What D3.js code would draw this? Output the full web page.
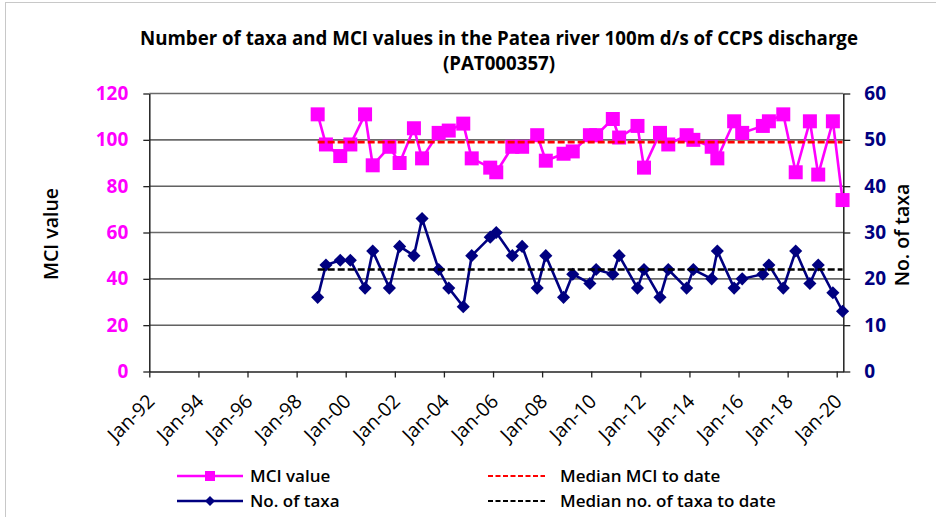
<!DOCTYPE html>
<html>
<head>
<meta charset="utf-8">
<script src="https://cdn.jsdelivr.net/npm/d3@7"></script>
<style>
  body { margin: 0; background: #fff; }
  svg text { font-family: "Open Sans", sans-serif; }
</style>
</head>
<body>
<script>
// sampling dates (spring / summer surveys)
var sampleDates = ["1998-11-10", "1999-03-13", "1999-10-12", "2000-03-10", "2000-10-15",
  "2001-02-06", "2001-10-12", "2002-03-13", "2002-10-12", "2003-02-10",
  "2003-10-15", "2004-03-13", "2004-10-15", "2005-02-18", "2005-11-20",
  "2006-02-18", "2006-10-15", "2007-03-10", "2007-10-20", "2008-02-25",
  "2008-11-15", "2009-04-01", "2009-12-12", "2010-03-15", "2010-11-18",
  "2011-02-20", "2011-11-20", "2012-02-25", "2012-10-20", "2013-02-20",
  "2013-11-20", "2014-02-28", "2014-11-28", "2015-02-20", "2015-10-28",
  "2016-02-25", "2016-12-28", "2017-03-28", "2017-10-28", "2018-05-01",
  "2018-11-28", "2019-04-01", "2019-11-05", "2020-03-28"];

var mciValues = [111, 98, 93, 98, 111, 89, 97, 90, 105, 92,
  103, 104, 107, 92, 88, 86, 97, 97, 102, 91,
  94, 95, 102, 102, 109, 101, 106, 88, 103, 98,
  102, 100, 97, 92, 108, 103, 106, 108, 111, 86,
  108, 85, 108, 74];

var taxaValues = [16, 23, 24, 24, 18, 26, 18, 27, 25, 33,
  22, 18, 14, 25, 29, 30, 25, 27, 18, 25,
  16, 21, 19, 22, 21, 25, 18, 22, 16, 22,
  18, 22, 20, 26, 18, 20, 21, 23, 18, 26,
  19, 23, 17, 13];

var medianMCI = 99;
var medianTaxa = 22;

var mciTicks = [0, 20, 40, 60, 80, 100, 120];
var taxaTicks = [0, 10, 20, 30, 40, 50, 60];

var titleLines = ["Number of taxa and MCI values in the Patea river 100m d/s of CCPS discharge",
  "(PAT000357)"];

var W = 936, H = 517;
var plotLeft = 149.3, plotRight = 843.3, plotTop = 93.5, plotBottom = 371.5;

var parse = d3.timeParse("%Y-%m-%d");
var dates = sampleDates.map(parse);

var svg = d3.select("body").append("svg")
  .attr("width", W)
  .attr("height", H);

svg.append("rect").attr("width", W).attr("height", H).attr("fill", "#fff");
// chart frame
svg.append("rect")
  .attr("x", 5.5).attr("y", 2.5)
  .attr("width", W).attr("height", H)
  .attr("fill", "none").attr("stroke", "#c8c8c8");

var x = d3.scaleTime()
  .domain([new Date(1992, 0, 1), new Date(2020, 3, 8)])
  .range([plotLeft, plotRight]);
var yL = d3.scaleLinear().domain([0, 120]).range([plotBottom, plotTop]);
var yR = d3.scaleLinear().domain([0, 60]).range([plotBottom, plotTop]);

// title
svg.append("g").selectAll("text")
  .data(titleLines)
  .enter().append("text")
  .attr("x", 499)
  .attr("y", function(d, i) { return 45 + i * 25; })
  .attr("text-anchor", "middle")
  .attr("font-size", "18.7px")
  .attr("font-weight", "bold")
  .text(function(d) { return d; });

// gridlines
svg.append("g").selectAll("line")
  .data(mciTicks.slice(1))
  .enter().append("line")
  .attr("x1", plotLeft).attr("x2", plotRight)
  .attr("y1", function(d) { return yL(d); })
  .attr("y2", function(d) { return yL(d); })
  .attr("stroke", function(d) { return d % 60 === 20 ? "#111" : "#6a6a6a"; })
  .attr("stroke-width", function(d) { return d % 60 === 20 ? 1 : 1.6; });

// axes
var xAxis = svg.append("g")
  .attr("transform", "translate(0," + plotBottom + ")")
  .call(d3.axisBottom(x)
    .ticks(d3.timeYear.every(2))
    .tickFormat(d3.timeFormat("%b-%y"))
    .tickSize(6).tickSizeOuter(0));
xAxis.selectAll("text")
  .attr("y", 0).attr("dy", 0)
  .attr("text-anchor", "end")
  .attr("transform", "translate(6,31) rotate(-45)")
  .attr("font-family", "'Liberation Sans', Arial, sans-serif")
  .attr("font-size", "19.5px")
  .attr("fill", "#000");

var lAxis = svg.append("g")
  .attr("transform", "translate(" + plotLeft + ",0)")
  .call(d3.axisLeft(yL).tickValues(mciTicks).tickSize(6).tickSizeOuter(0).tickPadding(15));
lAxis.selectAll("text")
  .attr("font-size", "19px").attr("font-weight", "bold").attr("fill", "#ff00ff");

var rAxis = svg.append("g")
  .attr("transform", "translate(" + plotRight + ",0)")
  .call(d3.axisRight(yR).tickValues(taxaTicks).tickSize(7).tickSizeOuter(0).tickPadding(14));
rAxis.selectAll("text")
  .attr("font-size", "19px").attr("font-weight", "bold").attr("fill", "#000080");

svg.selectAll(".domain").attr("stroke", "#222").attr("stroke-width", 1.5);
svg.selectAll(".tick line").attr("stroke", "#222").attr("stroke-width", 1.3);

// axis titles
svg.append("text")
  .attr("transform", "translate(58,234) rotate(-90)")
  .attr("text-anchor", "middle")
  .attr("font-size", "19.5px").attr("font-weight", 600)
  .text("MCI value");
svg.append("text")
  .attr("transform", "translate(909,235) rotate(-90)")
  .attr("text-anchor", "middle")
  .attr("font-size", "19.5px").attr("font-weight", 600)
  .text("No. of taxa");

var mciLine = d3.line()
  .x(function(d, i) { return x(dates[i]); })
  .y(function(d) { return yL(d); });
var taxaLine = d3.line()
  .x(function(d, i) { return x(dates[i]); })
  .y(function(d) { return yR(d); });

var square = d3.symbol().type(d3.symbolSquare).size(196);
var diamond = d3.symbol().type(d3.symbolSquare).size(86);

// MCI series
svg.append("path")
  .datum(mciValues)
  .attr("d", mciLine)
  .attr("fill", "none").attr("stroke", "#ff00ff").attr("stroke-width", 2.6);
svg.append("g").selectAll("path")
  .data(mciValues)
  .enter().append("path")
  .attr("d", square)
  .attr("transform", function(d, i) { return "translate(" + x(dates[i]) + "," + yL(d) + ")"; })
  .attr("fill", "#ff00ff");

// median MCI
svg.append("line")
  .attr("x1", x(dates[0])).attr("x2", x(dates[dates.length - 1]))
  .attr("y1", yL(medianMCI)).attr("y2", yL(medianMCI))
  .attr("stroke", "#ff0000").attr("stroke-width", 2.6)
  .attr("stroke-dasharray", "7,3");

// taxa series
svg.append("path")
  .datum(taxaValues)
  .attr("d", taxaLine)
  .attr("fill", "none").attr("stroke", "#000080").attr("stroke-width", 2.6);
svg.append("g").selectAll("path")
  .data(taxaValues)
  .enter().append("path")
  .attr("d", diamond)
  .attr("transform", function(d, i) { return "translate(" + x(dates[i]) + "," + yR(d) + ") rotate(45)"; })
  .attr("fill", "#000080");

// median taxa
svg.append("line")
  .attr("x1", x(dates[0])).attr("x2", x(dates[dates.length - 1]))
  .attr("y1", yR(medianTaxa)).attr("y2", yR(medianTaxa))
  .attr("stroke", "#000").attr("stroke-width", 2.6)
  .attr("stroke-dasharray", "7,3");

// legend
var legend = [
  {label: "MCI value", color: "#ff00ff", marker: "square", dash: null, lx: 177, ly: 476},
  {label: "No. of taxa", color: "#000080", marker: "diamond", dash: null, lx: 177, ly: 501},
  {label: "Median MCI to date", color: "#ff0000", marker: null, dash: "5,2.5", lx: 488, ly: 476},
  {label: "Median no. of taxa to date", color: "#000", marker: null, dash: "5,2.5", lx: 488, ly: 501}
];
var lg = svg.append("g").selectAll("g")
  .data(legend)
  .enter().append("g")
  .attr("transform", function(d) { return "translate(" + d.lx + "," + d.ly + ")"; });
lg.append("line")
  .attr("x1", 0).attr("x2", function(d) { return d.marker ? 66 : 57; })
  .attr("stroke", function(d) { return d.color; })
  .attr("stroke-width", function(d) { return d.marker ? 2.6 : 2; })
  .attr("stroke-dasharray", function(d) { return d.dash; });
lg.filter(function(d) { return d.marker === "square"; }).append("rect")
  .attr("x", 28).attr("y", -5).attr("width", 10).attr("height", 10)
  .attr("fill", function(d) { return d.color; });
lg.filter(function(d) { return d.marker === "diamond"; }).append("path")
  .attr("d", d3.symbol().type(d3.symbolSquare).size(50))
  .attr("transform", "translate(33,0) rotate(45)")
  .attr("fill", function(d) { return d.color; });
lg.append("text")
  .attr("x", function(d) { return d.marker ? 73 : 72; })
  .attr("dy", "0.35em")
  .attr("font-size", "17px")
  .attr("font-weight", 600)
  .text(function(d) { return d.label; });
</script>
</body>
</html>
